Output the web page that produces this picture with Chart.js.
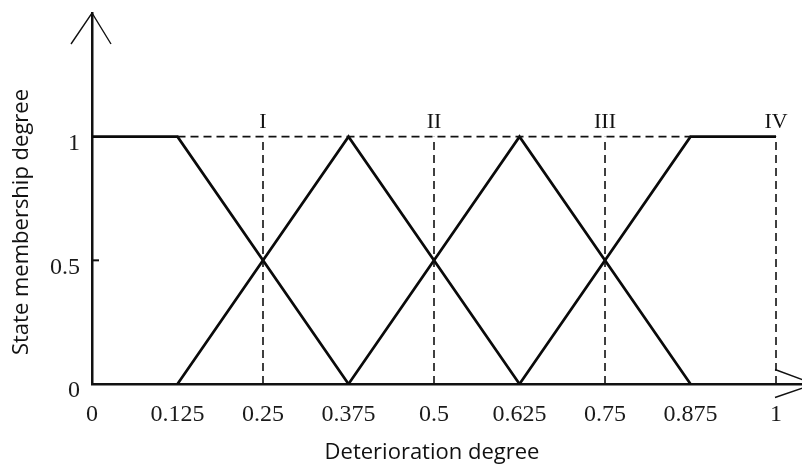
<!DOCTYPE html>
<html>
<head>
<meta charset="utf-8">
<script src="https://cdn.jsdelivr.net/npm/chart.js@4/dist/chart.umd.min.js"></script>
<style>
  html, body { margin: 0; padding: 0; background: #fff; }
  #wrap { width: 802px; height: 468px; }
</style>
</head>
<body>
<div id="wrap"><canvas id="chart" width="802" height="468"></canvas></div>
<script>
// tick labels
const xTicks = [0, 0.125, 0.25, 0.375, 0.5, 0.625, 0.75, 0.875, 1];
const yTicks = [0, 0.5, 1];

// membership functions of the four states
const stateIx = [0, 0.125, 0.375];
const stateIy = [1, 1, 0];
const stateIIx = [0.125, 0.375, 0.625];
const stateIIy = [0, 1, 0];
const stateIIIx = [0.375, 0.625, 0.875];
const stateIIIy = [0, 1, 0];
const stateIVx = [0.625, 0.875, 1];
const stateIVy = [0, 1, 1];

// dashed guides
const guideX = [0.25, 0.5, 0.75, 1];
const topGuideX = [0.125, 0.875];
const stateNames = ['I', 'II', 'III', 'IV'];

const xTitle = 'Deterioration degree';
const yTitle = 'State membership degree';

const toPoints = (xs, ys) => xs.map((v, i) => ({ x: v, y: ys[i] }));

const solid = (label, xs, ys) => ({
  label,
  data: toPoints(xs, ys),
  borderColor: '#0a0a0a',
  borderWidth: 2.7,
  pointRadius: 0,
  tension: 0,
});

const dashed = (data) => ({
  data,
  borderColor: '#111',
  borderWidth: 1.6,
  borderDash: [8, 5],
  pointRadius: 0,
  tension: 0,
});

const datasets = [
  dashed(topGuideX.map((v) => ({ x: v, y: 1 }))),
  ...guideX.map((v) => dashed([{ x: v, y: 0 }, { x: v, y: 1 }])),
  solid('I', stateIx, stateIy),
  solid('II', stateIIx, stateIIy),
  solid('III', stateIIIx, stateIIIy),
  solid('IV', stateIVx, stateIVy),
];

const decorations = {
  id: 'decorations',
  afterDraw(chart) {
    const { ctx, chartArea, scales: { x, y } } = chart;
    const x0 = x.getPixelForValue(0);
    const y0 = y.getPixelForValue(0);
    ctx.save();
    ctx.strokeStyle = '#111';
    ctx.lineWidth = 1.4;
    // arrow heads of the axes
    ctx.beginPath();
    ctx.moveTo(x0 - 21, chartArea.top + 31);
    ctx.lineTo(x0, chartArea.top);
    ctx.lineTo(x0 + 19, chartArea.top + 31);
    ctx.stroke();
    ctx.beginPath();
    ctx.moveTo(chartArea.right - 27, y0 - 14.5);
    ctx.lineTo(chartArea.right + 12, y0);
    ctx.lineTo(chartArea.right - 27, y0 + 13.5);
    ctx.stroke();
    // small tick at 0.5
    ctx.lineWidth = 2;
    ctx.beginPath();
    ctx.moveTo(x0, y.getPixelForValue(0.5));
    ctx.lineTo(x0 + 7, y.getPixelForValue(0.5));
    ctx.stroke();

    // state names above the dashed guides
    ctx.fillStyle = '#111';
    ctx.font = '22px "Liberation Serif", "Times New Roman", serif';
    ctx.textAlign = 'center';
    ctx.textBaseline = 'alphabetic';
    stateNames.forEach((name, i) => {
      ctx.fillText(name, x.getPixelForValue(guideX[i]), y.getPixelForValue(1) - 9);
    });

    // axis titles
    ctx.font = '22px "Open Sans", sans-serif';
    ctx.fillText(xTitle, 432, 459);
    ctx.translate(28, 222);
    ctx.rotate(-Math.PI / 2);
    ctx.fillText(yTitle, 0, 0);
    ctx.restore();
  },
};

const tickFont = { family: '"Liberation Serif", "Times New Roman", serif', size: 24 };

new Chart(document.getElementById('chart'), {
  type: 'line',
  data: { datasets },
  options: {
    responsive: false,
    animation: false,
    layout: { padding: { top: 13, right: 0, left: 0, bottom: 0 } },
    plugins: { legend: { display: false }, tooltip: { enabled: false } },
    scales: {
      x: {
        type: 'linear',
        min: 0,
        max: 1.038,
        afterBuildTicks: (scale) => { scale.ticks = xTicks.map((v) => ({ value: v })); },
        afterFit: (scale) => { scale.height = 84; scale.paddingLeft = 0; scale.paddingRight = 0; },
        grid: { display: false, drawTicks: false },
        border: { display: true, color: '#111', width: 2.5 },
        ticks: { color: '#1a1a1a', font: tickFont, padding: 16, maxRotation: 0, autoSkip: false, callback: (v) => String(v) },
      },
      y: {
        type: 'linear',
        min: 0,
        max: 1.5,
        afterBuildTicks: (scale) => { scale.ticks = yTicks.map((v) => ({ value: v })); },
        afterFit: (scale) => { scale.width = 92; scale.paddingTop = 0; scale.paddingBottom = 0; },
        grid: { display: false, drawTicks: false },
        border: { display: true, color: '#111', width: 2.5 },
        ticks: { color: '#1a1a1a', font: tickFont, padding: 12, labelOffset: 7, autoSkip: false, callback: (v) => String(v) },
      },
    },
  },
  plugins: [decorations],
});
</script>
</body>
</html>
